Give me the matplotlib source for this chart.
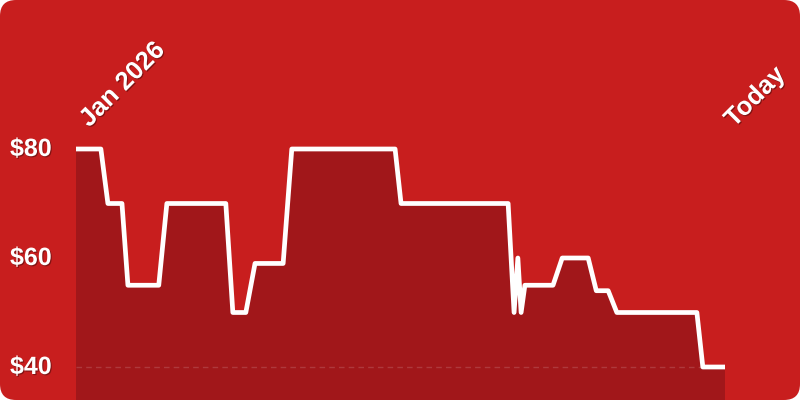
import numpy as np
import matplotlib
matplotlib.use("Agg")
import matplotlib.pyplot as plt
import matplotlib.patheffects as pe
from matplotlib.patches import FancyBboxPatch
from matplotlib.transforms import IdentityTransform, blended_transform_factory

# price history: day since Jan 1 2026 -> price ($)
days = [0, 4.6, 5.9, 8.5, 9.6, 15.3, 16.8, 27.7, 29.0, 31.4, 33.1, 38.3, 39.9,
        59.0, 60.1, 79.9, 81.0, 81.7, 82.3, 83.0, 88.2, 89.9, 94.7, 96.2,
        98.4, 100.0, 114.8, 115.9, 120]
prices = [80, 80, 70, 70, 55, 55, 70, 70, 50, 50, 59, 59, 80,
          80, 70, 70, 50, 60, 50, 55, 55, 60, 60, 54,
          54, 50, 50, 40, 40]
yticks = [80, 60, 40]
ytick_labels = ["$80", "$60", "$40"]
start_label = "Jan 2026"
end_label = "Today"

bg = "#C81E1E"
fill_col = "#A1171A"

fig = plt.figure(figsize=(8, 4), dpi=100)
fig.patch.set_facecolor("white")
card = FancyBboxPatch((0, 0), 800, 400, boxstyle="round,pad=0,rounding_size=16",
                      transform=IdentityTransform(), facecolor=bg, edgecolor="none",
                      zorder=-10)
fig.add_artist(card)

ax = fig.add_axes([76 / 800, 0, (725 - 76) / 800, 1])
ax.patch.set_alpha(0)
ax.set_axis_off()
ax.set_xlim(0, 120)
ax.set_ylim(80 - 251 / 5.45, 80 + 149 / 5.45)

ax.fill_between(days, prices, 0, color=fill_col, lw=0)
ax.axhline(40, color="white", alpha=0.15, lw=1, ls=(0, (4, 3)))
ax.plot(days, prices, color="white", lw=3.4, solid_joinstyle="round",
        solid_capstyle="butt", clip_on=False)

shadow = [pe.SimplePatchShadow(offset=(0.8, -0.8), shadow_rgbFace="black", alpha=0.35), pe.Normal()]
tr = blended_transform_factory(fig.transFigure, ax.transData)
for v, lab in zip(yticks, ytick_labels):
    ax.text(10 / 800, v, lab, transform=tr, ha="left", va="center", color="white",
            fontsize=18, fontweight="bold", family="Liberation Sans", path_effects=shadow)

for x, lab, dx in [(days[0], start_label, 13), (days[-1], end_label, 9)]:
    ax.annotate(lab, xy=(x, prices[0]), xytext=(dx, 21), textcoords="offset pixels",
                rotation=45, rotation_mode="anchor", ha="left", va="baseline",
                color="white", fontsize=18.5, fontweight="bold", family="Liberation Sans",
                path_effects=shadow, annotation_clip=False)

fig.savefig("out.png", dpi=100)
